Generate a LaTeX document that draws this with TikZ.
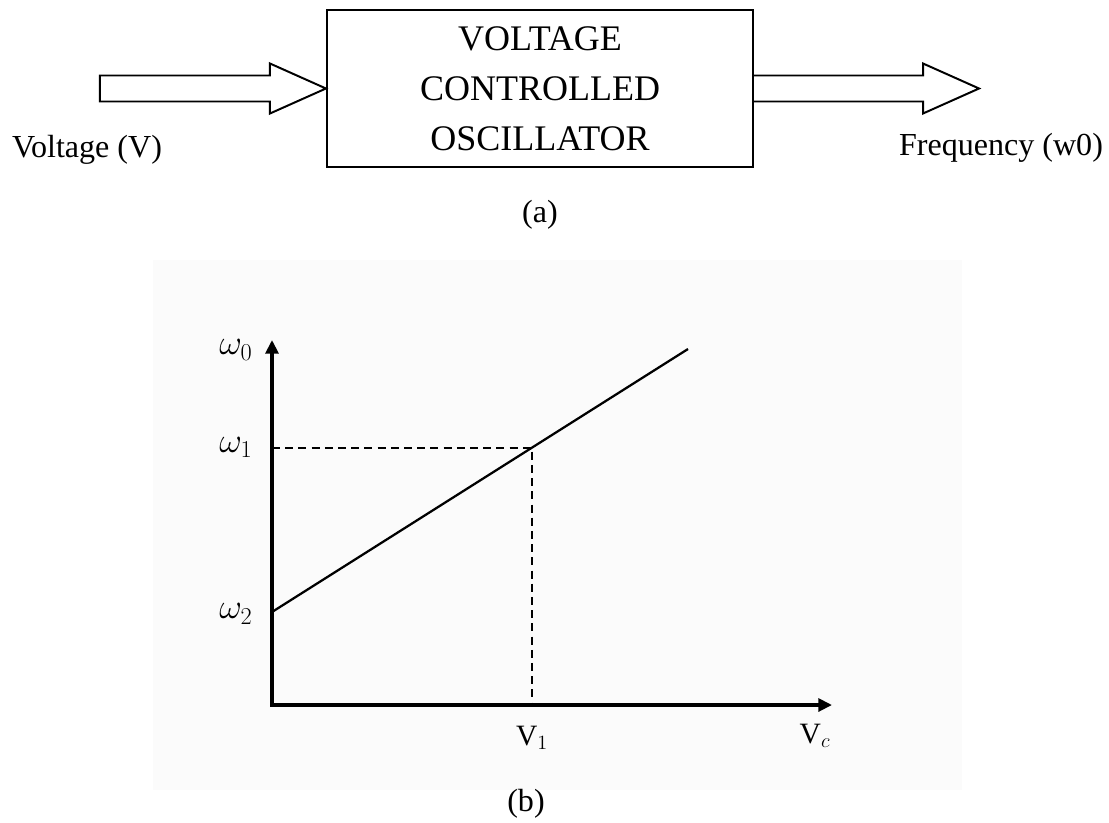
\documentclass[tikz,border=0pt]{standalone}
\usepackage{fontspec}
\setmainfont{Liberation Serif}
\usetikzlibrary{arrows.meta,calc}

\definecolor{plotbg}{RGB}{251,251,251}

\begin{document}
\begin{tikzpicture}[
  x=0.025cm, y=-0.025cm,
  every node/.style={inner sep=0pt},
  lbl/.style={font=\fontsize{22.8}{27}\selectfont},
  blockarrow/.style={draw, line width=1.4pt, line join=miter, fill=white},
  axis/.style={line width=2.4pt, line join=miter,
    {Triangle[length=0.34cm, width=0.32cm]}-{Triangle[length=0.34cm, width=0.32cm]}},
  guide/.style={line width=1.3pt, dash pattern=on 0.2cm off 0.13cm},
  omlab/.style={font=\fontsize{26}{30}\selectfont},
  vlab/.style={font=\fontsize{21}{25}\selectfont}
]
  \useasboundingbox (0,0) rectangle (1109,822);

  % Block diagram
  \node[draw, line width=1.4pt, minimum width=10.65cm, minimum height=3.925cm,
        align=center, font=\fontsize{25.6}{35.6}\selectfont] (vco) at (540,88.5)
        {VOLTAGE\\CONTROLLED\\OSCILLATOR};

  % Input and output arrows
  \draw[blockarrow] (vco.west) -- ++(-56,-25) -- ++(0,12) -- ++(-170,0)
    -- ++(0,26) -- ++(170,0) -- ++(0,12) -- cycle;
  \draw[blockarrow] ([yshift=0.325cm]vco.east) -- ++(169,0) -- ++(0,-12)
    -- ++(56,25) -- ++(-56,25) -- ++(0,-12) -- ++(-169,0);

  \node[lbl, anchor=base] (volt) at (87,157) {Voltage (V)};
  \node[lbl, anchor=base] (freq) at (1001,155) {Frequency (w0)};
  \node[lbl] (capa) at (540,215) {(a)};

  % Characteristic
  \fill[plotbg] (153,260) rectangle (962,790);

  \coordinate (orig) at (272,705);
  \coordinate (ytip) at (272,340);
  \coordinate (xtip) at (832,705);
  \coordinate (wtwo) at (272,612);
  \coordinate (lineend) at (688,349);
  \coordinate (op) at ($(wtwo)!0.625!(lineend)$);

  \draw[guide] (op -| orig) -- (op) -- (op |- orig);
  \draw[line width=1.6pt] (wtwo) -- (lineend);
  \draw[axis] (ytip) -- (orig) -- (xtip);

  \node[omlab] (w0lab) at (236,350) {$\omega_0$};
  \node[omlab] (w1lab) at ($(op -| orig)+(-36,0)$) {$\omega_1$};
  \node[omlab] (w2lab) at (236,614) {$\omega_2$};
  \node[vlab] (v1lab) at ($(op |- orig)+(0,33)$) {V$_1$};
  \node[vlab] (vclab) at (815,736) {V$_c$};

  \node[lbl] (capb) at (526,804) {(b)};
\end{tikzpicture}
\end{document}
